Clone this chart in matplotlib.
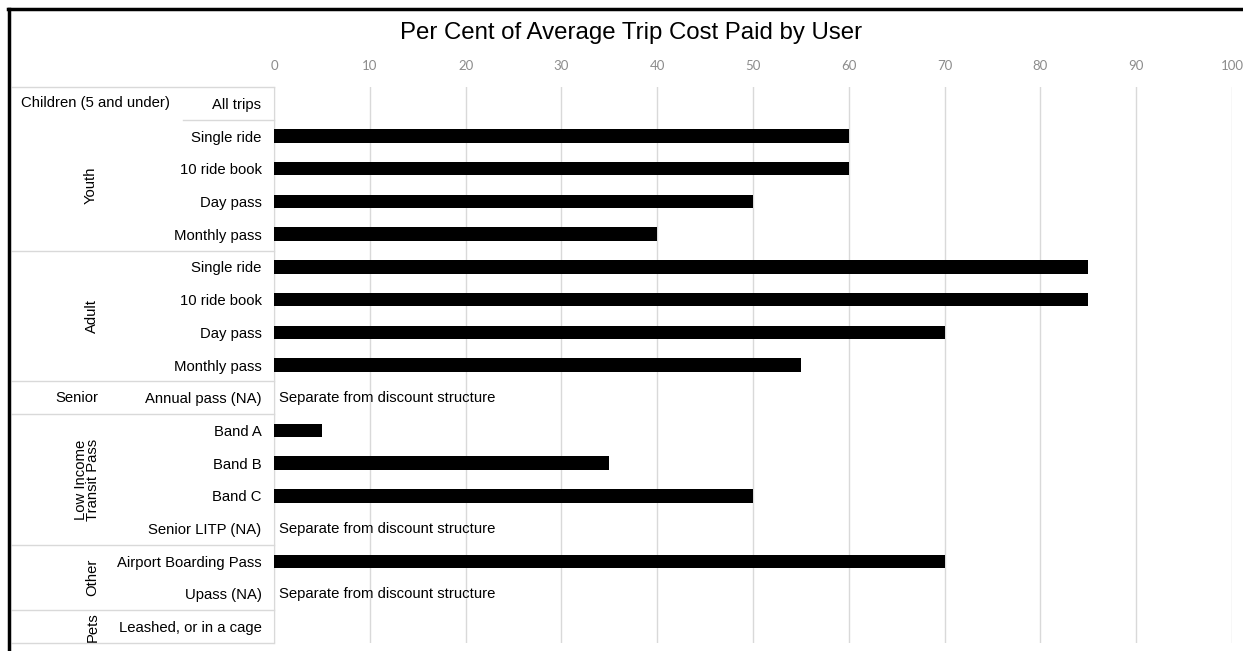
import matplotlib.pyplot as plt
from matplotlib.transforms import blended_transform_factory
from matplotlib.lines import Line2D

# row labels (top to bottom) and per cent values; None = no bar
row_labels = ['All trips', 'Single ride', '10 ride book', 'Day pass', 'Monthly pass',
              'Single ride', '10 ride book', 'Day pass', 'Monthly pass',
              'Annual pass (NA)', 'Band A', 'Band B', 'Band C', 'Senior LITP (NA)',
              'Airport Boarding Pass', 'Upass (NA)', 'Leashed, or in a cage']
values = [None, 60, 60, 50, 40,
          85, 85, 70, 55,
          None, 5, 35, 50, None,
          70, None, None]
separate_rows = [9, 13, 15]
separate_text = 'Separate from discount structure'

# group name, first row, last row, rotated
groups = [('Children (5 and under)', 0, 0, False),
          ('Youth', 1, 4, True),
          ('Adult', 5, 8, True),
          ('Senior', 9, 9, False),
          ('Low Income\nTransit Pass', 10, 13, True),
          ('Other', 14, 15, True),
          ('Pets', 16, 16, True)]
group_x = [95, 91, 92, 77, 87, 92, 93]

xticks = list(range(0, 101, 10))
title = 'Per Cent of Average Trip Cost Paid by User'

W, H = 1243, 651
fs = 10.7
fig = plt.figure(figsize=(W / 100, H / 100), dpi=100)
plt.rcParams['font.family'] = ['Liberation Sans', 'DejaVu Sans']
ax = fig.add_axes([274 / W, 1 - 643 / H, (1232 - 274) / W, (643 - 87) / H])

grid_col = '#d9d9d9'
for i, v in enumerate(values):
    if v is not None:
        ax.barh(i, v, height=0.41, color='black', zorder=3)
for i in separate_rows:
    ax.text(0.5, i, separate_text, ha='left', va='center', fontsize=fs, zorder=4)

ax.set_xlim(0, 100)
ax.set_ylim(len(row_labels) - 0.5, -0.5)
ax.set_xticks(xticks)
ax.set_xticklabels([str(t) for t in xticks], fontfamily='Lato', fontsize=9.5, color='#8c8c8c')
ax.tick_params(axis='x', top=True, labeltop=True, bottom=False, labelbottom=False, length=0, pad=11)
ax.set_yticks(range(len(row_labels)))
ax.set_yticklabels(row_labels, fontsize=fs)
ax.tick_params(axis='y', length=0, pad=9)
ax.grid(axis='x', color=grid_col, linewidth=1, zorder=0)
for s in ['top', 'right', 'bottom']:
    ax.spines[s].set_visible(False)
ax.spines['left'].set_color(grid_col)

trans = blended_transform_factory(fig.transFigure, ax.transData)
# group separator lines
for b in [-0.5, 4.5, 8.5, 9.5, 13.5, 15.5, 16.5]:
    ax.add_line(Line2D([12 / W, 274 / W], [b, b], transform=trans, color=grid_col,
                       linewidth=1, clip_on=False))
ax.add_line(Line2D([183 / W, 274 / W], [0.5, 0.5], transform=trans, color=grid_col,
                   linewidth=1, clip_on=False))

for (name, r0, r1, rot), gx in zip(groups, group_x):
    ax.text(gx / W, (r0 + r1) / 2, name, transform=trans, ha='center', va='center',
            rotation=90 if rot else 0, fontsize=fs, linespacing=0.9)

fig.text(631 / W, 1 - 33 / H, title, ha='center', va='center', fontsize=17.3)

# black frame on top and left
fig.add_artist(Line2D([9 / W, 9 / W], [0, 1 - 9 / H], transform=fig.transFigure,
                      color='black', linewidth=2.5))
fig.add_artist(Line2D([8 / W, 1], [1 - 9 / H, 1 - 9 / H], transform=fig.transFigure,
                      color='black', linewidth=2.5))

fig.savefig('out.png', dpi=100)
